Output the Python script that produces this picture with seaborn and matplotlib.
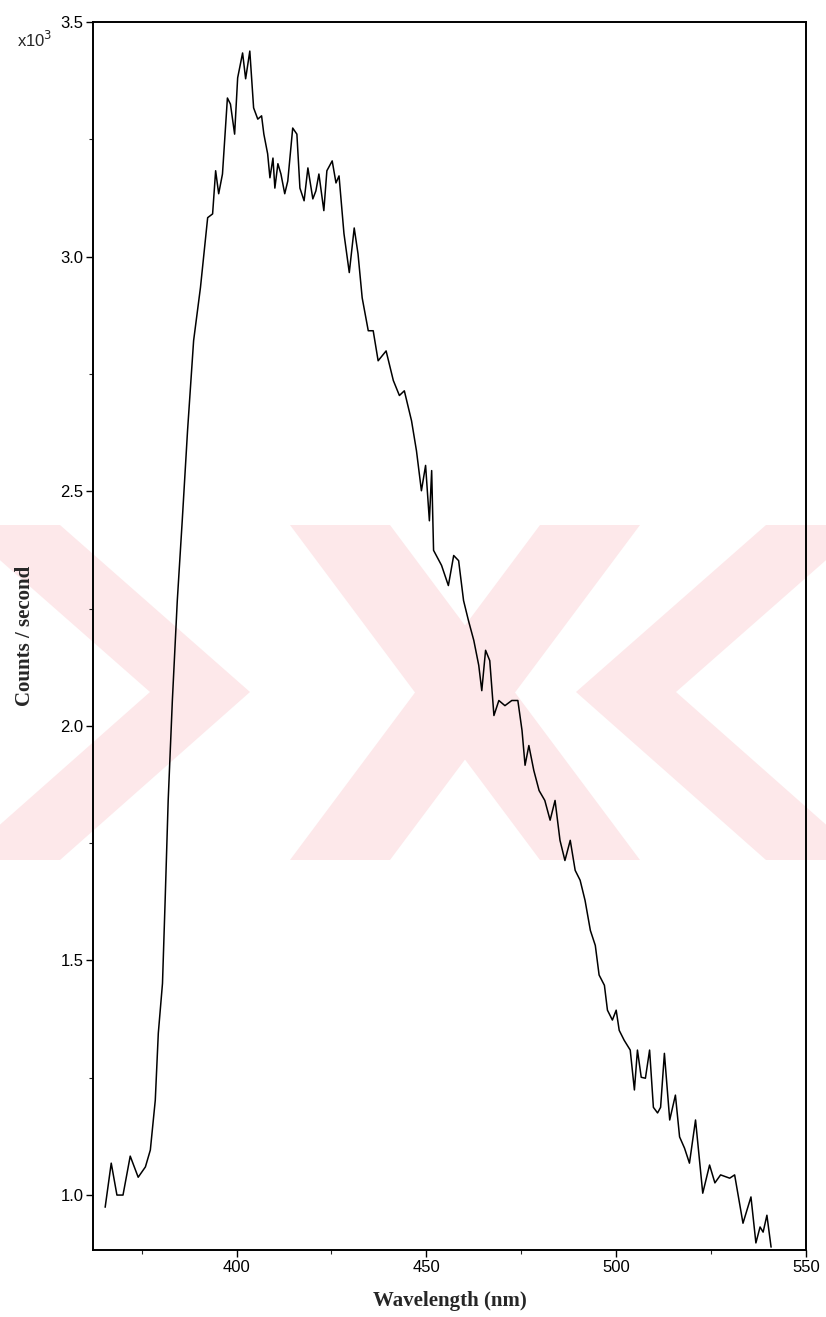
import numpy as np
import pandas as pd
import matplotlib
matplotlib.use("Agg")
import matplotlib.pyplot as plt
from matplotlib.patches import Polygon
from matplotlib.ticker import MultipleLocator
import seaborn as sns

# emission spectrum (counts in units of 10^3)
wavelength = [
    365.4, 367.0, 368.5, 370.1, 372.0, 374.1, 376.0, 377.3, 378.6, 379.4,
    380.5, 381.2, 382.0, 383.1, 384.4, 385.7, 387.1, 388.7, 390.5, 392.4,
    393.7, 394.5, 395.3, 396.3, 397.6, 398.4, 399.5, 400.3, 401.6, 402.4,
    403.5, 404.5, 405.6, 406.6, 407.2, 408.2, 408.8, 409.6, 410.1, 410.9,
    411.7, 412.7, 413.5, 414.8, 415.9, 416.7, 417.8, 418.8, 420.1, 420.9,
    421.7, 423.0, 423.8, 425.2, 426.2, 427.0, 428.3, 429.7, 431.0, 432.0,
    433.1, 434.7, 436.0, 437.3, 439.4, 441.3, 442.9, 444.2, 446.1, 447.4,
    448.7, 449.8, 450.8, 451.4, 451.9, 454.0, 455.8, 457.2, 458.5, 459.8,
    461.1, 462.5, 463.8, 464.6, 465.6, 466.7, 467.8, 469.1, 470.7, 472.5,
    474.1, 475.2, 476.0, 477.0, 478.3, 479.7, 481.2, 482.6, 483.9, 485.2,
    486.5, 487.9, 489.2, 490.5, 491.8, 493.2, 494.5, 495.5, 496.9, 497.7,
    499.0, 500.0, 500.8, 502.1, 503.7, 504.8, 505.6, 506.6, 507.7, 508.8,
    509.8, 510.9, 511.7, 512.7, 514.1, 515.6, 516.7, 518.0, 519.3, 520.9,
    522.8, 524.6, 526.0, 527.5, 529.9, 531.2, 533.4, 535.5, 536.8, 537.9,
    538.7, 539.7, 540.8,
]
counts = [
    0.974, 1.068, 1.000, 1.000, 1.083, 1.038, 1.060, 1.096, 1.202, 1.345,
    1.451, 1.628, 1.841, 2.054, 2.267, 2.437, 2.629, 2.821, 2.934, 3.083,
    3.091, 3.183, 3.134, 3.176, 3.338, 3.325, 3.261, 3.381, 3.434, 3.379,
    3.438, 3.317, 3.293, 3.300, 3.261, 3.219, 3.168, 3.210, 3.146, 3.198,
    3.176, 3.134, 3.161, 3.274, 3.261, 3.146, 3.119, 3.189, 3.123, 3.140,
    3.176, 3.098, 3.183, 3.204, 3.157, 3.172, 3.049, 2.966, 3.061, 3.006,
    2.912, 2.842, 2.842, 2.778, 2.799, 2.736, 2.704, 2.714, 2.650, 2.586,
    2.501, 2.555, 2.437, 2.544, 2.374, 2.342, 2.299, 2.363, 2.352, 2.267,
    2.224, 2.182, 2.129, 2.075, 2.161, 2.139, 2.022, 2.054, 2.043, 2.054,
    2.054, 1.990, 1.916, 1.958, 1.905, 1.862, 1.841, 1.799, 1.841, 1.756,
    1.713, 1.756, 1.692, 1.671, 1.628, 1.564, 1.532, 1.469, 1.447, 1.394,
    1.373, 1.394, 1.351, 1.330, 1.309, 1.224, 1.309, 1.251, 1.249, 1.309,
    1.187, 1.175, 1.187, 1.302, 1.160, 1.213, 1.124, 1.100, 1.068, 1.160,
    1.004, 1.064, 1.026, 1.043, 1.036, 1.043, 0.940, 0.996, 0.898, 0.932,
    0.921, 0.957, 0.889,
]
x_ticks = [400, 450, 500, 550]
y_ticks = [1.0, 1.5, 2.0, 2.5, 3.0, 3.5]

df = pd.DataFrame({"wavelength": wavelength, "counts": counts})

sns.set_theme(style="ticks")
plt.rcParams["font.family"] = ["Liberation Sans", "DejaVu Sans"]

W, H = 826, 1317
fig = plt.figure(figsize=(W / 100, H / 100), dpi=100)

# faint pink watermark of the scanned page (pixel outlines, top-left origin)
wm_shapes = [
    [(-40, 525), (60, 525), (250, 692), (60, 860), (-40, 860), (150, 692)],
    [(290, 525), (390, 525), (640, 860), (540, 860)],
    [(540, 525), (640, 525), (390, 860), (290, 860)],
    [(866, 525), (766, 525), (576, 692), (766, 860), (866, 860), (676, 692)],
]
for shp in wm_shapes:
    pts = [(px / W, 1 - py / H) for px, py in shp]
    fig.patches.append(Polygon(pts, closed=True, transform=fig.transFigure,
                               facecolor="#fde8ea", edgecolor="none",
                               zorder=0))

ax = fig.add_axes([0.1126, 0.0509, 0.8632, 0.9324])
ax.set_facecolor("none")
ax.set_zorder(2)

sns.lineplot(data=df, x="wavelength", y="counts", color="black",
             linewidth=1.1, ax=ax, sort=False)

ax.set_xlim(362.2, 550)
ax.set_ylim(0.883, 3.5)
ax.set_xticks(x_ticks)
ax.set_yticks(y_ticks)
ax.set_yticklabels([f"{v:.1f}" for v in y_ticks])
ax.xaxis.set_minor_locator(MultipleLocator(25))
ax.yaxis.set_minor_locator(MultipleLocator(0.25))
ax.tick_params(axis="both", which="major", direction="out", length=5,
               width=1.0, labelsize=12, colors="black", pad=2)
ax.tick_params(axis="both", which="minor", direction="out", length=3,
               width=0.8)
for s in ax.spines.values():
    s.set_visible(True)
    s.set_color("black")
    s.set_linewidth(1.4)

ax.set_xlabel("Wavelength (nm)", family="Liberation Serif",
              fontweight="bold", fontsize=15, labelpad=12)
ax.set_ylabel("Counts / second", family="Liberation Serif",
              fontweight="bold", fontsize=15, labelpad=18)

fig.text(17 / W, 1 - 47 / H, r"x10$^3$", fontsize=12, ha="left",
         va="baseline")

fig.savefig("out.png", dpi=100)
